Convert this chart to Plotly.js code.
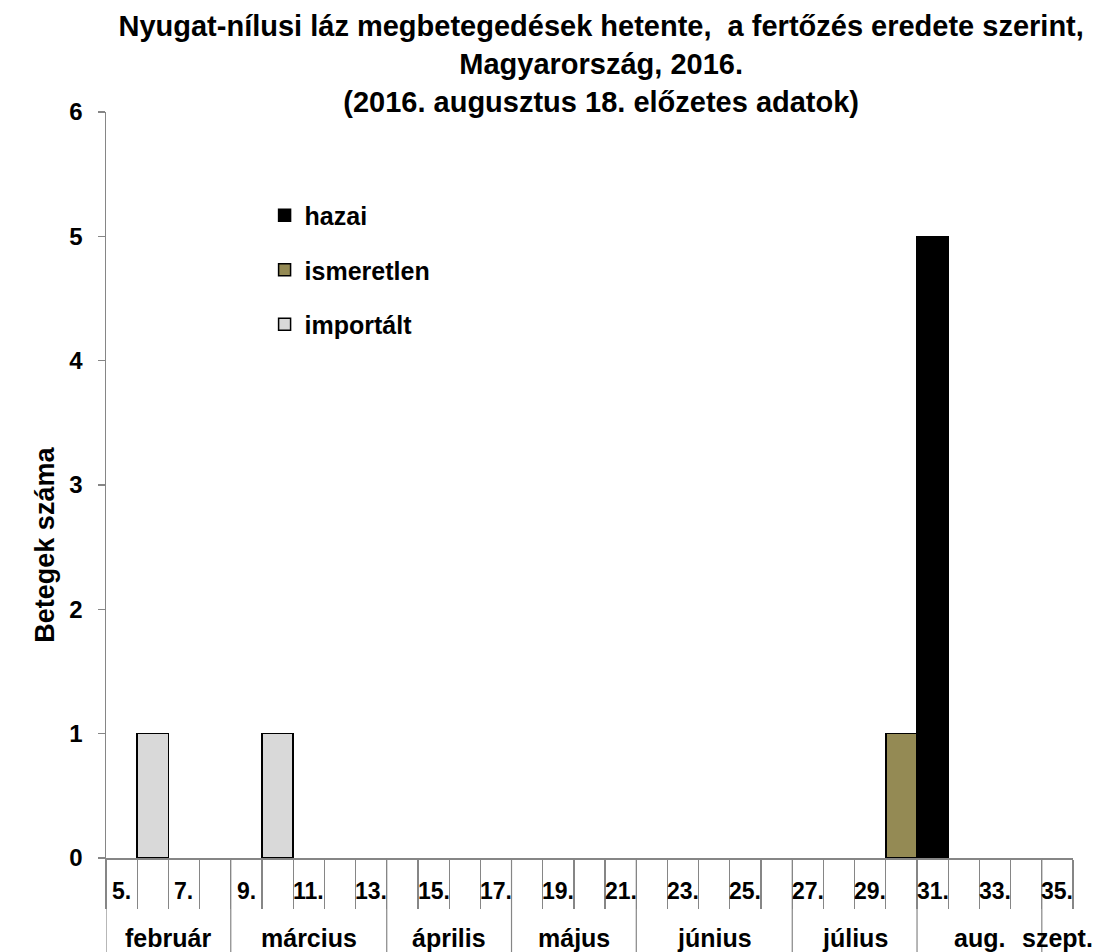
<!DOCTYPE html>
<html><head><meta charset="utf-8">
<script src="https://cdn.plot.ly/plotly-3.0.1.min.js"></script>
<style>html,body{margin:0;padding:0;background:#fff}</style>
</head><body><div id="chart" style="width:1097px;height:952px"></div>
<script>
// Data (weeks of 2016)
const weeks = [5,6,7,8,9,10,11,12,13,14,15,16,17,18,19,20,21,22,23,24,25,26,27,28,29,30,31,32,33,34,35];
const weekLabels = ["5.","","7.","","9.","","11.","","13.","","15.","","17.","","19.","","21.","","23.","","25.","","27.","","29.","","31.","","33.","","35."];
const hazai      = [0,0,0,0,0,0,0,0,0,0,0,0,0,0,0,0,0,0,0,0,0,0,0,0,0,0,5,0,0,0,0];
const ismeretlen = [0,0,0,0,0,0,0,0,0,0,0,0,0,0,0,0,0,0,0,0,0,0,0,0,0,1,0,0,0,0,0];
const importalt  = [0,1,0,0,0,1,0,0,0,0,0,0,0,0,0,0,0,0,0,0,0,0,0,0,0,0,0,0,0,0,0];
const months = ["február","március","április","május","június","július","aug.","szept."];
const monthStartWeek = [5,9,14,18,22,27,31,35];
const monthEndWeek   = [8,13,17,21,26,30,34,35];
const yTicks = [0,1,2,3,4,5,6];

const FONT = "Liberation Sans, Arial, sans-serif";
const cats = weeks.map(String);
const idx = w => weeks.indexOf(w);
const nz = arr => arr.map(v => v === 0 ? null : v);

const series = [
  {name: "hazai", y: hazai, color: "#000000"},
  {name: "ismeretlen", y: ismeretlen, color: "#948A54"},
  {name: "importált", y: importalt, color: "#D9D9D9"}
];
const traces = series.map(s => ({
  type: "bar", name: s.name, x: cats, y: nz(s.y), legendgroup: s.name,
  marker: {color: s.color, line: {color: "#000000", width: 1.5}},
  hoverinfo: "x+y+name"
}));

const annotations = [];
weeks.forEach((w, i) => {
  if (weekLabels[i]) annotations.push({
    x: i, xref: "x", y: 0, yref: "paper", yshift: -33, yanchor: "middle", xanchor: "center",
    text: weekLabels[i], showarrow: false, font: {family: FONT, size: 23, color: "#000", weight: "bold"}
  });
});
const shapes = [];
months.forEach((m, k) => {
  const a = idx(monthStartWeek[k]), b = idx(monthEndWeek[k]);
  annotations.push({
    x: (a + b) / 2, xref: "x", y: 0, yref: "paper", yshift: -80, yanchor: "middle", xanchor: "center",
    text: m, showarrow: false, font: {family: FONT, size: 25, color: "#000", weight: "bold"}
  });
  shapes.push({type: "line", xref: "x", yref: "paper", x0: a - 0.5, x1: a - 0.5, y0: 0, y1: -0.126,
    line: {color: "#868686", width: 1.2}});
});
// y-axis title (placed as in the reference, below the axis centre)
annotations.push({
  x: 0, xref: "paper", xshift: -61, y: 0.42, yref: "paper", xanchor: "center", yanchor: "middle",
  textangle: -90, text: "Betegek száma", showarrow: false,
  font: {family: FONT, size: 27, color: "#000", weight: "bold"}
});

const layout = {
  width: 1097, height: 952,
  margin: {l: 106, r: 24, t: 112, b: 94},
  paper_bgcolor: "#fff", plot_bgcolor: "#fff",
  font: {family: FONT, color: "#000"},
  title: {
    text: "Nyugat-nílusi láz megbetegedések hetente,  a fertőzés eredete szerint,<br>Magyarország, 2016.<br>(2016. augusztus 18. előzetes adatok)",
    font: {family: FONT, size: 29, color: "#000", weight: "bold"},
    xref: "container", x: 0.548, xanchor: "center",
    yref: "container", y: 0.962, yanchor: "top"
  },
  barmode: "stack", bargap: 0,
  xaxis: {
    type: "category", categoryorder: "array", categoryarray: cats,
    range: [-0.5, weeks.length - 0.5],
    showticklabels: false, ticks: "outside", tickson: "boundaries", ticklen: 49,
    tickcolor: "#868686", tickwidth: 1.2,
    showline: true, linecolor: "#868686", linewidth: 1.5, showgrid: false, zeroline: false, fixedrange: true
  },
  yaxis: {
    range: [0, 6], tickvals: yTicks, ticktext: yTicks.map(String),
    ticks: "outside", ticklen: 7, tickcolor: "#868686", tickwidth: 1.2,
    showline: true, linecolor: "#868686", linewidth: 1.5, showgrid: false, zeroline: false,
    ticklabelstandoff: 10,
    tickfont: {family: FONT, size: 24, color: "#000", weight: "bold"},
    fixedrange: true
  },
  showlegend: true,
  legend: {
    x: 0.164, xanchor: "left", y: 0.892, yanchor: "top",
    traceorder: "grouped", tracegroupgap: 19,
    bgcolor: "rgba(0,0,0,0)", borderwidth: 0,
    font: {family: FONT, size: 25, color: "#000", weight: "bold"}
  },
  annotations: annotations,
  shapes: shapes
};

Plotly.newPlot("chart", traces, layout, {displayModeBar: false, staticPlot: true});
</script>
</body></html>
